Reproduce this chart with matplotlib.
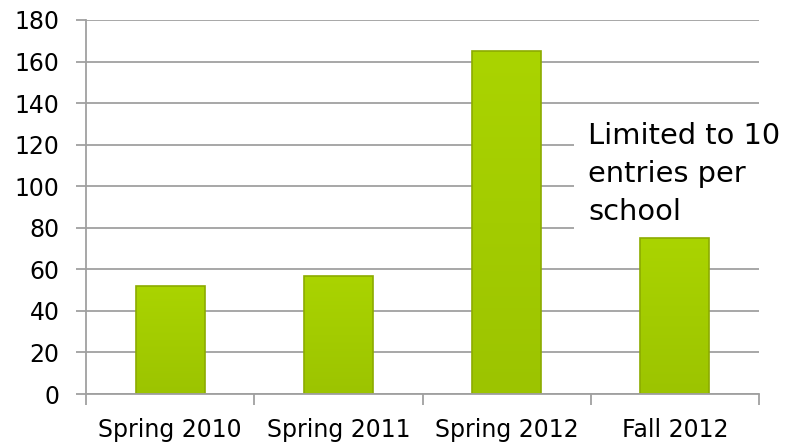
import matplotlib
matplotlib.use("Agg")
import matplotlib.pyplot as plt
import numpy as np
from matplotlib.colors import LinearSegmentedColormap

categories = ["Spring 2010", "Spring 2011", "Spring 2012", "Fall 2012"]
values = [52, 57, 165, 75]
y_ticks = [0, 20, 40, 60, 80, 100, 120, 140, 160, 180]
note = "Limited to 10\nentries per\nschool"

plt.rcParams['font.family'] = ['DejaVu Sans']

fig = plt.figure(figsize=(7.97, 4.46), dpi=100)
ax = fig.add_axes([86/797, (446-394)/446, (759-86)/797, (394-20)/446])

x = list(range(len(categories)))
bars = ax.bar(x, values, width=0.41, color="#a5cd00", edgecolor="#8cab00", linewidth=1.2, zorder=3)

# subtle vertical gradient inside each bar
cmap = LinearSegmentedColormap.from_list("g", ["#9cc400", "#aad400"])
grad = np.linspace(0, 1, 256).reshape(-1, 1)
for b in bars:
    x0, y0 = b.get_x(), b.get_y()
    w, h = b.get_width(), b.get_height()
    im = ax.imshow(grad, cmap=cmap, origin='lower', aspect='auto',
                   extent=(x0, x0 + w, y0, y0 + h), zorder=3.1)
    im.set_clip_path(b)
    b.set_facecolor("none")
    b.set_zorder(3.2)

ax.set_xlim(-0.5, len(categories) - 0.5)
ax.set_ylim(0, 180)
ax.set_yticks(y_ticks)
ax.set_yticklabels([str(v) for v in y_ticks], fontsize=17)
ax.set_xticks(x)
ax.set_xticklabels(categories, fontsize=17)
ax.tick_params(axis='x', length=0, pad=17)
ax.set_xticks([i + 0.5 for i in range(-1, len(categories))], minor=True)
ax.tick_params(axis='x', which='minor', length=8, color="#a0a0a0", width=1.3)
ax.tick_params(axis='y', length=7, color="#a0a0a0", width=1.3, pad=12)

ax.grid(axis='y', color="#a0a0a0", linewidth=1.3, zorder=0)
for s in ['top', 'right']:
    ax.spines[s].set_visible(False)
for s in ['left', 'bottom']:
    ax.spines[s].set_color("#a0a0a0")
    ax.spines[s].set_linewidth(1.3)
    ax.spines[s].set_zorder(3.5)

ax.text(2.485, 131, note, fontsize=20.8, ha='left', va='top', linespacing=1.45,
        zorder=2.5, clip_on=False,
        bbox=dict(facecolor='white', edgecolor='none', boxstyle='square,pad=0.5'))

fig.savefig("out.png", dpi=100)
